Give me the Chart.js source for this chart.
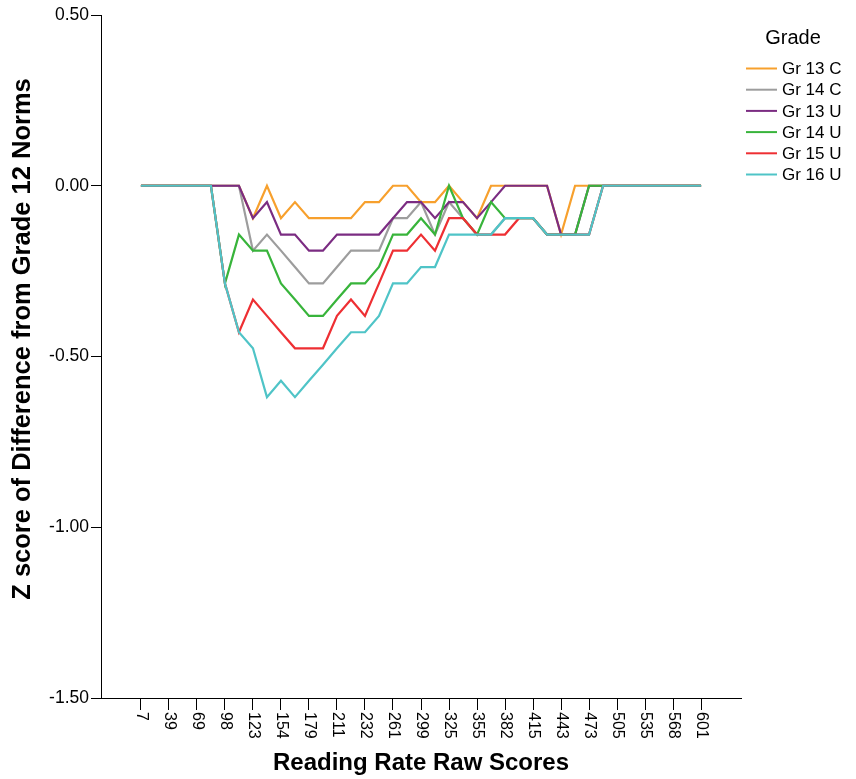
<!DOCTYPE html>
<html>
<head>
<meta charset="utf-8">
<script src="https://cdn.jsdelivr.net/npm/chart.js@4/dist/chart.umd.min.js"></script>
<style>
  html, body { margin: 0; padding: 0; background: #ffffff; }
  canvas { display: block; }
</style>
</head>
<body>
<canvas id="chart" width="856" height="779"></canvas>
<script>
// Reading rate raw score categories (every other one is labelled on the axis)
const scoreLabels = [7, 23, 39, 54, 69, 84, 98, 110, 123, 139, 154, 166, 179, 195, 211, 221,
  232, 247, 261, 280, 299, 312, 325, 340, 355, 368, 382, 398, 415, 429, 443, 458, 473, 489,
  505, 520, 535, 551, 568, 585, 601];

// Z score of difference from grade 12 norms, one value per score category
const gr13C = [0, 0, 0, 0, 0, 0, 0, 0, -0.095, 0, -0.095, -0.048, -0.095, -0.095, -0.095, -0.095,
  -0.048, -0.048, 0, 0, -0.048, -0.048, 0, -0.048, -0.095, 0, 0, 0, 0, 0, -0.143,
  0, 0, 0, 0, 0, 0, 0, 0, 0, 0];
const gr14C = [0, 0, 0, 0, 0, 0, 0, 0, -0.190, -0.143, -0.190, -0.238, -0.286, -0.286, -0.238, -0.190,
  -0.190, -0.190, -0.095, -0.095, -0.048, -0.143, -0.048, -0.095, -0.143, -0.143, -0.095, -0.095,
  -0.095, -0.143, -0.143, -0.143, -0.143, 0, 0, 0, 0, 0, 0, 0, 0];
const gr13U = [0, 0, 0, 0, 0, 0, 0, 0, -0.095, -0.048, -0.143, -0.143, -0.190, -0.190, -0.143, -0.143,
  -0.143, -0.143, -0.095, -0.048, -0.048, -0.095, -0.048, -0.048, -0.095, -0.048, 0, 0, 0, 0,
  -0.143, -0.143, 0, 0, 0, 0, 0, 0, 0, 0, 0];
const gr14U = [0, 0, 0, 0, 0, 0, -0.286, -0.143, -0.190, -0.190, -0.286, -0.333, -0.381, -0.381,
  -0.333, -0.286, -0.286, -0.238, -0.143, -0.143, -0.095, -0.143, 0, -0.095, -0.143, -0.048,
  -0.095, -0.095, -0.095, -0.143, -0.143, -0.143, 0, 0, 0, 0, 0, 0, 0, 0, 0];
const gr15U = [0, 0, 0, 0, 0, 0, -0.286, -0.429, -0.333, -0.381, -0.429, -0.476, -0.476, -0.476,
  -0.381, -0.333, -0.381, -0.286, -0.190, -0.190, -0.143, -0.190, -0.095, -0.095, -0.143, -0.143,
  -0.143, -0.095, -0.095, -0.143, -0.143, -0.143, -0.143, 0, 0, 0, 0, 0, 0, 0, 0];
const gr16U = [0, 0, 0, 0, 0, 0, -0.286, -0.429, -0.476, -0.619, -0.571, -0.619, -0.571, -0.524,
  -0.476, -0.429, -0.429, -0.381, -0.286, -0.286, -0.238, -0.238, -0.143, -0.143, -0.143, -0.143,
  -0.095, -0.095, -0.095, -0.143, -0.143, -0.143, -0.143, 0, 0, 0, 0, 0, 0, 0, 0];

const seriesNames = ['Gr 13 C', 'Gr 14 C', 'Gr 13 U', 'Gr 14 U', 'Gr 15 U', 'Gr 16 U'];
const seriesValues = [gr13C, gr14C, gr13U, gr14U, gr15U, gr16U];
const seriesColors = ['#f7a02d', '#9d9d9d', '#7b2c82', '#38b43b', '#ee2f33', '#4fc4c7'];

const yTickValues = [0.5, 0, -0.5, -1.0, -1.5];

const FONT = '"Liberation Sans", Arial, Helvetica, sans-serif';
const edgePad = 2.85; // empty room (in categories) between the axes and the first/last point
const yTitle = 'Z score of Difference from Grade 12 Norms';

const datasets = seriesValues.map((vals, s) => ({
  label: seriesNames[s],
  data: vals.map((v, i) => ({ x: i, y: v })),
  borderColor: seriesColors[s],
  backgroundColor: seriesColors[s],
  borderWidth: 2.2,
  pointRadius: 0,
  pointHoverRadius: 0,
  tension: 0,
  fill: false,
  order: seriesValues.length - s // later groups are painted on top
}));

// Rotated category labels, the vertical axis title and the "Grade" key
const decorations = {
  id: 'decorations',
  afterDraw(chart) {
    const ctx = chart.ctx;
    const xs = chart.scales.x;
    ctx.save();
    ctx.fillStyle = '#000000';
    ctx.font = '16px ' + FONT;
    ctx.textAlign = 'left';
    ctx.textBaseline = 'middle';
    xs.ticks.forEach(t => {
      const px = xs.getPixelForValue(t.value);
      ctx.save();
      ctx.translate(px, xs.top + 14);
      ctx.rotate(Math.PI / 2);
      ctx.fillText(String(scoreLabels[t.value]), 0, 0);
      ctx.restore();
    });

    // vertical axis title
    ctx.save();
    ctx.translate(23, 339);
    ctx.rotate(-Math.PI / 2);
    ctx.textAlign = 'center';
    ctx.font = 'bold 25.5px ' + FONT;
    ctx.fillText(yTitle, 0, 0);
    ctx.restore();

    // key
    ctx.textAlign = 'center';
    ctx.font = '20px ' + FONT;
    ctx.fillText('Grade', 793, 38);
    ctx.textAlign = 'left';
    ctx.font = '17px ' + FONT;
    chart.data.datasets.forEach((ds, i) => {
      const y = 68.5 + i * 21.2;
      ctx.strokeStyle = ds.borderColor;
      ctx.lineWidth = 2;
      ctx.beginPath();
      ctx.moveTo(746, y);
      ctx.lineTo(777, y);
      ctx.stroke();
      ctx.fillText(ds.label, 782, y + 1);
    });
    ctx.restore();
  }
};

new Chart(document.getElementById('chart'), {
  type: 'line',
  data: { datasets },
  plugins: [decorations],
  options: {
    responsive: false,
    animation: false,
    events: [],
    layout: { padding: { left: 0, right: 115, top: 15, bottom: 0 } },
    plugins: {
      legend: { display: false },
      tooltip: { enabled: false }
    },
    scales: {
      x: {
        type: 'linear',
        min: -edgePad,
        max: scoreLabels.length - 1 + edgePad,
        afterBuildTicks(scale) {
          scale.ticks = scoreLabels.map((_, i) => i).filter(i => i % 2 === 0).map(i => ({ value: i }));
        },
        afterFit(scale) { scale.height = 81; },
        ticks: { display: false },
        grid: {
          display: true,
          drawOnChartArea: false,
          drawTicks: true,
          tickLength: 12,
          color: '#000000',
          lineWidth: 1
        },
        border: { display: true, color: '#000000', width: 1 },
        title: {
          display: true,
          text: 'Reading Rate Raw Scores',
          color: '#000000',
          font: { family: FONT, size: 24, weight: 'bold' },
          padding: { top: 0, bottom: 1 }
        }
      },
      y: {
        type: 'linear',
        min: -1.5,
        max: 0.5,
        afterBuildTicks(scale) {
          scale.ticks = yTickValues.map(v => ({ value: v }));
        },
        afterFit(scale) { scale.width = 101; },
        ticks: {
          color: '#000000',
          padding: 2,
          font: { family: FONT, size: 17.5 },
          callback: v => Number(v).toFixed(2)
        },
        grid: {
          display: true,
          drawOnChartArea: false,
          drawTicks: true,
          tickLength: 10,
          color: '#000000',
          lineWidth: 1
        },
        border: { display: true, color: '#000000', width: 1 },
        title: { display: false }
      }
    }
  }
});
</script>
</body>
</html>
